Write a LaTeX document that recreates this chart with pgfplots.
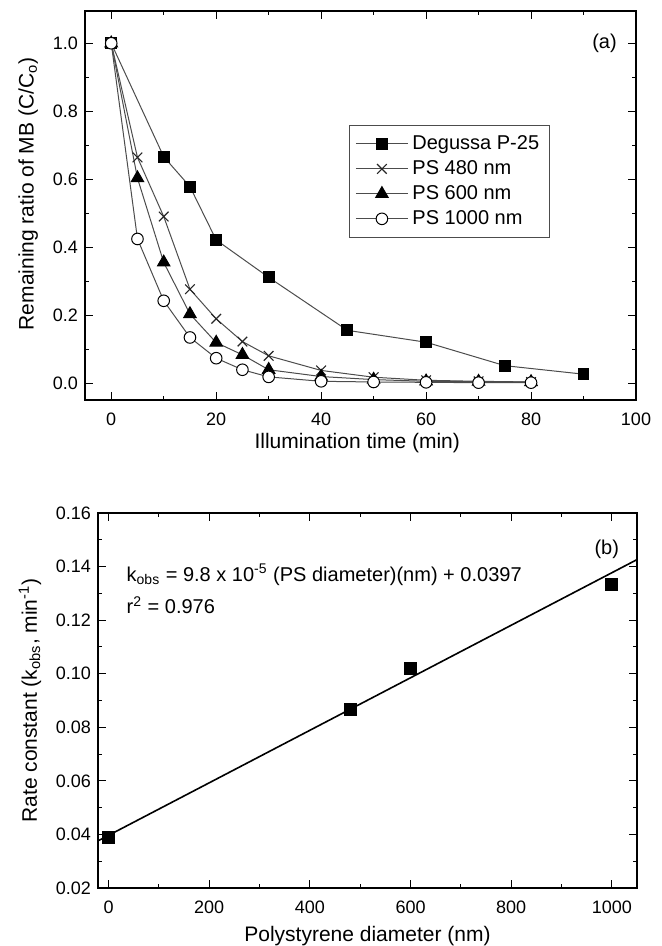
\documentclass[border=0pt]{standalone}
\usepackage{pgfplots}
\pgfplotsset{compat=1.18}
\usepackage{fontspec}
\setmainfont{Liberation Sans}
\begin{document}
\begin{tikzpicture}
\useasboundingbox (0,0) rectangle (331pt,473pt);
\pgfplotsset{
  every axis/.append style={
    scale only axis,
    axis line style={line width=0.6pt},
    every tick/.style={line width=0.5pt, black},
    tick align=inside,
    major tick length=3.9pt,
    minor tick length=2pt,
    tick label style={font=\fontsize{9}{10}\selectfont},
    label style={font=\fontsize{10.5}{12}\selectfont},
    /pgf/number format/assume math mode=true,
  },
}
% ---------------- panel (a) ----------------
\begin{axis}[
  at={(42.5pt,273pt)}, anchor=south west,
  width=275.5pt, height=194.5pt,
  xmin=-5, xmax=100, ymin=-0.05, ymax=1.095,
  xtick={0,20,40,60,80,100}, minor xtick={10,30,50,70,90},
  ytick={0,0.2,0.4,0.6,0.8,1.0}, minor ytick={0.1,0.3,0.5,0.7,0.9},
  yticklabel style={/pgf/number format/.cd, fixed, fixed zerofill, precision=1},
  xticklabel style={yshift=-3pt},
  xlabel={Illumination time (min)},
  ylabel={Remaining ratio of MB (C/C\textsubscript{o})},
  xlabel style={at={(axis description cs:0.494,-0.11)}, anchor=center},
  ylabel style={at={(axis description cs:-0.103,0.53)}, anchor=center},
  legend style={at={(0.479,0.707)}, anchor=north west, draw=black!70, line width=0.5pt,
    font=\fontsize{10}{12}\selectfont, cells={anchor=west}, inner xsep=3pt, inner ysep=3pt, row sep=0pt},
  legend image code/.code={\draw[mark repeat=2,mark phase=2,#1] plot coordinates {(0pt,0pt) (13pt,0pt) (26pt,0pt)};},
  every axis plot/.append style={draw=black!70, line width=0.5pt},
]
\addplot[mark=square*, mark size=2.7pt, mark options={draw=black, fill=black}] coordinates {
 (0,1.0) (10,0.666) (15,0.578) (20,0.421) (30,0.311) (45,0.155) (60,0.120) (75,0.051) (90,0.026)};
\addlegendentry{Degussa P-25}
\addplot[mark=x, mark size=3.4pt, mark options={draw=black!85, line width=0.55pt}] coordinates {
 (0,1.0) (5,0.664) (10,0.490) (15,0.276) (20,0.189) (25,0.122) (30,0.080) (40,0.037) (50,0.017) (60,0.008) (70,0.005) (80,0.003)};
\addlegendentry{PS 480 nm}
\addplot[mark=triangle*, mark size=3.6pt, mark options={draw=black, fill=black}] coordinates {
 (0,1.0) (5,0.603) (10,0.355) (15,0.203) (20,0.119) (25,0.083) (30,0.039) (40,0.019) (50,0.010) (60,0.005) (70,0.004) (80,0.003)};
\addlegendentry{PS 600 nm}
\addplot[mark=*, mark size=2.9pt, mark options={draw=black, fill=white}] coordinates {
 (0,1.0) (5,0.424) (10,0.242) (15,0.134) (20,0.073) (25,0.039) (30,0.018) (40,0.005) (50,0.003) (60,0.002) (70,0.001) (80,0.001)};
\addlegendentry{PS 1000 nm}
\node[font=\fontsize{10}{12}\selectfont] at (axis cs:94,1.0) {(a)};
\end{axis}
% ---------------- panel (b) ----------------
\begin{axis}[
  at={(49pt,29pt)}, anchor=south west,
  width=269.5pt, height=187.5pt,
  xmin=-21, xmax=1050, ymin=0.02, ymax=0.16,
  xtick={0,200,400,600,800,1000}, minor xtick={100,300,500,700,900},
  ytick={0.02,0.04,0.06,0.08,0.10,0.12,0.14,0.16},
  minor ytick={0.03,0.05,0.07,0.09,0.11,0.13,0.15},
  yticklabel style={/pgf/number format/.cd, fixed, fixed zerofill, precision=2},
  xticklabel style={/pgf/number format/1000 sep={}, yshift=-3pt},
  xlabel={Polystyrene diameter (nm)},
  ylabel={Rate constant (k\textsubscript{obs}, min\textsuperscript{-1})},
  xlabel style={at={(axis description cs:0.5,-0.128)}, anchor=center},
  ylabel style={at={(axis description cs:-0.126,0.5)}, anchor=center},
]
\addplot[black, line width=0.8pt] coordinates {(-21,0.0376) (1050,0.1426)};
\addplot[only marks, mark=square*, mark size=3pt, mark options={draw=black, fill=black}] coordinates {
 (0,0.0390) (480,0.0868) (600,0.1021) (1000,0.1335)};
\node[anchor=west, font=\fontsize{10}{12}\selectfont] at (axis cs:22,0.1369) {k\textsubscript{obs} = 9.8 x 10\textsuperscript{-5} (PS diameter)(nm) + 0.0397};
\node[anchor=west, font=\fontsize{10}{12}\selectfont] at (axis cs:22,0.1257) {r\textsuperscript{2} = 0.976};
\node[font=\fontsize{10}{12}\selectfont] at (axis cs:990,0.1465) {(b)};
\end{axis}
\end{tikzpicture}
\end{document}
